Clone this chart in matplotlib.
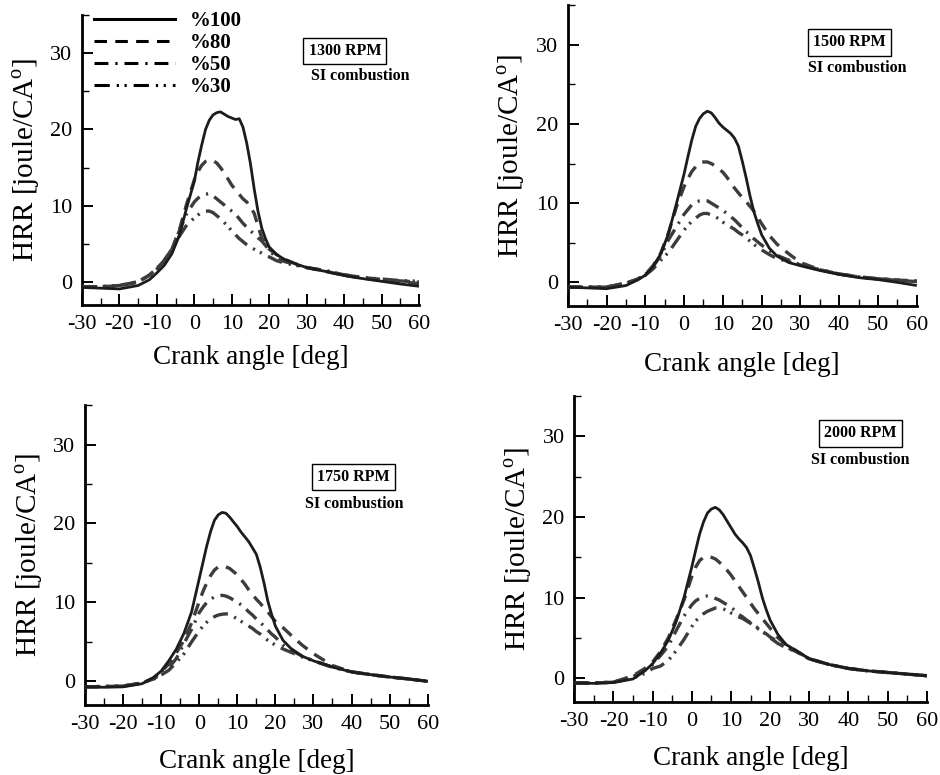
import matplotlib
matplotlib.use('Agg')
import matplotlib.pyplot as plt
from matplotlib.lines import Line2D
from matplotlib.ticker import MultipleLocator, FixedLocator, FixedFormatter

plt.rcParams['font.family'] = ['Liberation Serif', 'DejaVu Serif']
plt.rcParams['mathtext.fontset'] = 'custom'
plt.rcParams['mathtext.rm'] = 'Liberation Serif'
plt.rcParams['lines.scale_dashes'] = False

# ---------------- data ----------------
crank_angle = [-30, -25, -20, -15, -12, -10, -8, -6, -4, -2,
               0, 1, 2, 3, 4, 5, 6, 7, 8, 9, 10, 11, 12, 13, 14, 15, 16, 17, 18, 19, 20,
               22, 24, 27, 30, 35, 40, 45, 50, 55, 60]

load_labels = ['%100', '%80', '%50', '%30']
rpm_labels = ['1300 RPM', '1500 RPM', '1750 RPM', '2000 RPM']
note_label = 'SI combustion'

hrr_1300_100 = [-0.7, -0.8, -0.9, -0.45, 0.3, 1.2, 2.2, 3.7, 6.1, 9.8,
                13.2, 15.8, 18.0, 20.0, 21.2, 21.9, 22.2, 22.3, 22.0, 21.7, 21.5, 21.3, 21.4, 20.3, 18.2, 15.5,
                12.2, 9.3, 7.1, 5.7, 4.6,
                3.6, 3.0, 2.4, 1.9, 1.4, 0.85, 0.45, 0.1, -0.25, -0.55]
hrr_1300_80 = [-0.6, -0.6, -0.5, 0.0, 0.9, 1.8, 2.8, 4.3, 6.8, 10.3,
               13.4, 14.5, 15.3, 15.8, 16.0, 15.9, 15.6, 15.0, 14.3, 13.5, 12.7, 12.1, 11.5, 10.9, 10.5, 9.8,
               9.0, 7.4, 5.8, 5.0, 4.3,
               3.6, 3.0, 2.4, 1.9, 1.4, 0.9, 0.5, 0.25, 0.05, -0.2]
hrr_1300_50 = [-0.6, -0.6, -0.45, 0.05, 0.9, 1.8, 2.9, 4.3, 6.7, 9.0,
               10.5, 11.0, 11.3, 11.5, 11.6, 11.3, 10.9, 10.5, 10.1, 9.7, 9.3, 8.9, 8.3, 7.7, 7.2, 6.7,
               6.3, 5.8, 5.4, 4.8, 4.2,
               3.1, 2.7, 2.3, 1.9, 1.5, 0.95, 0.6, 0.35, 0.15, 0.0]
hrr_1300_30 = [-0.6, -0.6, -0.45, 0.05, 0.9, 1.7, 2.8, 4.2, 6.0, 7.5,
               8.4, 8.8, 9.1, 9.3, 9.3, 9.1, 8.7, 8.3, 7.8, 7.3, 6.7, 6.2, 5.7, 5.3, 4.9, 4.6,
               4.3, 4.0, 3.8, 3.5, 3.3,
               2.8, 2.5, 2.2, 1.9, 1.5, 0.95, 0.6, 0.4, 0.2, 0.1]

hrr_1500_100 = [-0.6, -0.7, -0.8, -0.4, 0.3, 0.9, 2.0, 3.6, 6.2, 9.9,
                13.7, 15.9, 18.0, 19.7, 20.7, 21.3, 21.6, 21.4, 20.8, 20.1, 19.6, 19.2, 18.8, 18.2, 17.2, 15.3,
                13.2, 10.9, 8.9, 7.4, 6.0,
                4.3, 3.3, 2.5, 2.1, 1.5, 1.0, 0.6, 0.35, 0.0, -0.4]
hrr_1500_80 = [-0.6, -0.6, -0.6, -0.1, 0.4, 1.0, 2.1, 3.7, 6.3, 9.5,
               12.1, 13.1, 14.0, 14.6, 15.1, 15.2, 15.2, 15.0, 14.7, 14.3, 13.9, 13.3, 12.6, 11.9, 11.3, 10.7,
               10.2, 9.6, 9.0, 8.2, 7.4,
               5.9, 4.8, 3.6, 2.5, 1.6, 1.05, 0.7, 0.45, 0.25, 0.1]
hrr_1500_50 = [-0.6, -0.6, -0.6, -0.1, 0.4, 1.0, 2.0, 3.4, 5.4, 7.0,
               8.6, 9.2, 9.8, 10.1, 10.3, 10.4, 10.3, 10.0, 9.7, 9.4, 9.1, 8.7, 8.3, 7.9, 7.4, 6.9,
               6.4, 6.0, 5.5, 5.1, 4.7,
               4.0, 3.4, 2.8, 2.2, 1.6, 1.05, 0.7, 0.45, 0.3, 0.15]
hrr_1500_30 = [-0.6, -0.6, -0.6, -0.1, 0.4, 0.9, 1.7, 2.8, 3.8, 5.2,
               6.6, 7.2, 7.7, 8.1, 8.5, 8.7, 8.7, 8.5, 8.3, 8.0, 7.6, 7.3, 7.0, 6.7, 6.3, 6.0,
               5.6, 5.2, 4.8, 4.4, 4.1,
               3.5, 3.0, 2.6, 2.2, 1.6, 1.05, 0.7, 0.45, 0.3, 0.15]

hrr_1750_100 = [-0.7, -0.75, -0.7, -0.3, 0.5, 1.3, 2.6, 4.1, 6.1, 8.8,
                13.0, 15.1, 17.2, 19.0, 20.4, 21.1, 21.4, 21.3, 20.8, 20.2, 19.6, 18.9, 18.3, 17.7, 16.9, 16.1,
                14.5, 12.5, 10.2, 8.5, 7.0,
                5.2, 4.2, 3.2, 2.6, 1.8, 1.2, 0.85, 0.55, 0.3, 0.0]
hrr_1750_80 = [-0.7, -0.65, -0.6, -0.2, 0.4, 1.2, 2.2, 3.6, 5.2, 7.4,
               10.1, 11.4, 12.5, 13.4, 14.1, 14.5, 14.6, 14.5, 14.3, 13.9, 13.5, 12.9, 12.3, 11.6, 11.0, 10.4,
               9.9, 9.3, 8.8, 8.2, 7.6,
               6.8, 5.9, 4.6, 3.5, 2.0, 1.2, 0.85, 0.55, 0.3, 0.0]
hrr_1750_50 = [-0.7, -0.65, -0.6, -0.2, 0.3, 0.9, 1.7, 2.9, 4.8, 6.6,
               8.7, 9.4, 10.0, 10.4, 10.7, 10.8, 10.9, 10.8, 10.6, 10.3, 10.0, 9.7, 9.3, 8.8, 8.4, 7.9,
               7.5, 7.0, 6.5, 6.0, 5.6,
               4.6, 4.0, 3.2, 2.6, 1.8, 1.2, 0.85, 0.55, 0.3, 0.0]
hrr_1750_30 = [-0.7, -0.65, -0.6, -0.2, 0.3, 0.8, 1.4, 2.4, 3.5, 5.0,
               6.4, 7.0, 7.5, 7.9, 8.2, 8.4, 8.5, 8.55, 8.5, 8.2, 7.9, 7.6, 7.3, 7.0, 6.7, 6.3,
               6.0, 5.6, 5.2, 4.9, 4.6,
               4.1, 3.7, 3.1, 2.6, 1.8, 1.2, 0.85, 0.55, 0.3, 0.0]

hrr_2000_100 = [-0.6, -0.65, -0.55, -0.1, 0.9, 1.8, 3.1, 4.7, 7.0, 10.0,
                13.8, 15.9, 17.9, 19.4, 20.5, 21.0, 21.2, 20.9, 20.3, 19.5, 18.7, 17.9, 17.3, 16.8, 16.2, 15.2,
                13.6, 11.9, 10.0, 8.5, 7.2,
                5.4, 4.2, 3.3, 2.4, 1.7, 1.2, 0.9, 0.7, 0.5, 0.3]
hrr_2000_80 = [-0.6, -0.6, -0.5, 0.3, 1.2, 2.0, 3.3, 5.0, 7.3, 9.7,
               12.6, 13.8, 14.6, 15.0, 15.1, 15.0, 14.8, 14.4, 13.9, 13.4, 12.8, 12.1, 11.4, 10.7, 10.0, 9.3,
               8.6, 8.0, 7.4, 6.8, 6.2,
               5.0, 4.2, 3.3, 2.4, 1.7, 1.2, 0.9, 0.7, 0.5, 0.3]
hrr_2000_50 = [-0.6, -0.6, -0.5, 0.2, 1.0, 1.7, 2.8, 4.0, 5.9, 7.7,
               9.1, 9.6, 9.9, 10.1, 10.2, 10.1, 9.9, 9.7, 9.4, 9.1, 8.8, 8.4, 7.9, 7.6, 7.2, 6.9,
               6.5, 6.2, 5.8, 5.5, 5.1,
               4.5, 3.9, 3.2, 2.4, 1.7, 1.2, 0.9, 0.7, 0.5, 0.3]
hrr_2000_30 = [-0.6, -0.6, -0.5, 0.0, 0.6, 1.2, 1.5, 2.2, 3.4, 4.8,
               6.4, 7.1, 7.6, 8.0, 8.3, 8.5, 8.7, 8.7, 8.6, 8.4, 8.1, 7.9, 7.6, 7.4, 7.1, 6.8,
               6.4, 6.1, 5.8, 5.4, 5.0,
               4.3, 3.8, 3.2, 2.4, 1.7, 1.2, 0.9, 0.7, 0.5, 0.3]

x_ticks = [-30, -20, -10, 0, 10, 20, 30, 40, 50, 60]
x_tick_labels = ['-30', '-20', '-10', '0', '10', '20', '30', '40', '50', '60']
y_ticks = [0, 10, 20, 30]
y_tick_labels = ['0', '10', '20', '30']

panels = [
    (rpm_labels[0], [hrr_1300_100, hrr_1300_80, hrr_1300_50, hrr_1300_30]),
    (rpm_labels[1], [hrr_1500_100, hrr_1500_80, hrr_1500_50, hrr_1500_30]),
    (rpm_labels[2], [hrr_1750_100, hrr_1750_80, hrr_1750_50, hrr_1750_30]),
    (rpm_labels[3], [hrr_2000_100, hrr_2000_80, hrr_2000_50, hrr_2000_30]),
]

# ---------------- layout / style ----------------
axes_rects = [
    [0.0872, 0.6065, 0.3585, 0.3742],
    [0.604, 0.605, 0.3713, 0.3884],
    [0.0904, 0.0903, 0.3646, 0.3870],
    [0.611, 0.0938, 0.3749, 0.3950],
]
xlabel_pads = [8, 12, 11, 11]
# (box x, box y, note x, note y) in data coords
text_pos = [
    (40.2, 30.3, 44.3, 27.0),
    (42.7, 30.3, 44.6, 27.1),
    (40.5, 25.9, 40.6, 22.5),
    (43.0, 30.4, 43.0, 27.1),
]
line_styles = [
    dict(color='#1c1c1c', lw=2.0, ls='-', zorder=5),
    dict(color='#3c3c3c', lw=2.4, ls=(0, (9, 6)), zorder=4),
    dict(color='#3c3c3c', lw=2.4, ls=(0, (10, 5, 1.6, 5)), zorder=3),
    dict(color='#3c3c3c', lw=2.4, ls=(0, (11, 5, 1.6, 4, 1.6, 5)), zorder=2),
]

fig = plt.figure(figsize=(9.4, 7.75), dpi=100)

for i, (rpm, series) in enumerate(panels):
    ax = fig.add_axes(axes_rects[i])
    for vals, st in zip(series, line_styles):
        ax.plot(crank_angle, vals, color=st['color'], lw=st['lw'], ls=st['ls'],
                zorder=st['zorder'], solid_capstyle='butt', dash_capstyle='butt',
                solid_joinstyle='round')
    ax.set_xlim(-30, 60)
    ax.set_ylim(-3, 35)
    for s in ['top', 'right']:
        ax.spines[s].set_visible(False)
    for s in ['left', 'bottom']:
        ax.spines[s].set_linewidth(2.0)
    ax.xaxis.set_major_locator(FixedLocator(x_ticks))
    ax.xaxis.set_major_formatter(FixedFormatter(x_tick_labels))
    ax.yaxis.set_major_locator(FixedLocator(y_ticks))
    ax.yaxis.set_major_formatter(FixedFormatter(y_tick_labels))
    ax.xaxis.set_minor_locator(MultipleLocator(5))
    ax.yaxis.set_minor_locator(MultipleLocator(5))
    ax.tick_params(which='major', direction='in', length=8, width=1.4,
                   labelsize=16, pad=7, top=False, right=False)
    ax.tick_params(which='minor', direction='in', length=5, width=1.0,
                   top=False, right=False)
    ax.set_xlabel('Crank angle [deg]', fontsize=19.5, labelpad=xlabel_pads[i])
    ax.set_ylabel('HRR [joule/CA$^{\\mathrm{o}}$]', fontsize=21, labelpad=6)

    bx, by, nx, ny = text_pos[i]
    ax.text(bx, by, rpm, fontsize=11.5, fontweight='bold', ha='center', va='center',
            bbox=dict(boxstyle='square,pad=0.33', fc='white', ec='black', lw=1.0))
    ax.text(nx, ny, note_label, fontsize=11.5, fontweight='bold', ha='center', va='center')

    if i == 0:
        handles = [Line2D([], [], color='black', lw=2.2, ls=st['ls']) for st in line_styles]
        ax.legend(handles, load_labels, loc='upper left', bbox_to_anchor=(0.035, 1.013),
                  frameon=False, borderpad=0, borderaxespad=0, handlelength=3.9,
                  handletextpad=0.72, labelspacing=0.1,
                  prop={'size': 15, 'weight': 'bold'})

fig.savefig('out.png', dpi=100)
